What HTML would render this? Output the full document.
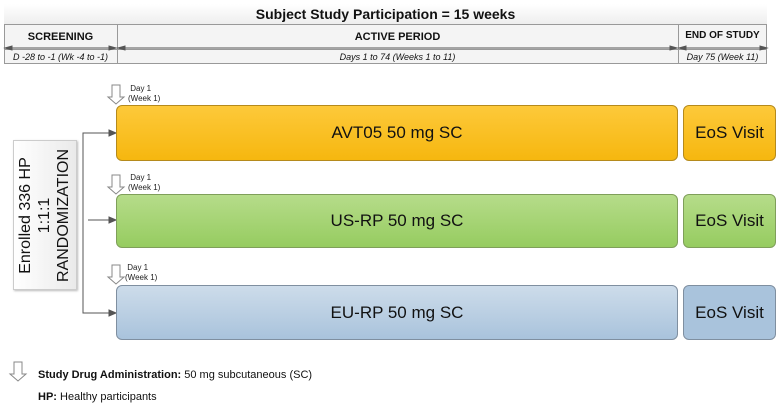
<!DOCTYPE html>
<html><head><meta charset="utf-8"><style>
body{margin:0;width:780px;height:413px;background:#fff;position:relative;overflow:hidden;font-family:"Liberation Sans",sans-serif;color:#111}
.a{position:absolute;box-sizing:border-box}
.c{display:flex;align-items:center;justify-content:center}
.b{border-radius:6px;font-size:17px}
.y{background:linear-gradient(#fdc93a,#f6b70f);border:1px solid #b58a1c}
.g{background:linear-gradient(#b6dc8a,#96cc60);border:1px solid #7f9f5a}
.bl{background:linear-gradient(#cddcea,#a9c3dc);border:1px solid #7f8fa0}
.bl2{background:#a9c3dc;border:1px solid #7f8fa0}
.d{font-size:8px;line-height:10px;color:#222}
</style></head><body>
<div class="a" style="left:4px;top:4px;width:763px;height:60px;border:1px solid #999;background:#f4f4f4"></div>
<div class="a c" style="left:4px;top:4px;width:763px;height:21px;border-bottom:1px solid #999;font-weight:bold;font-size:14px;background:linear-gradient(#fff,#eee)">Subject Study Participation = 15 weeks</div>
<div class="a" style="left:117px;top:24px;width:1px;height:40px;background:#999"></div>
<div class="a" style="left:678px;top:24px;width:1px;height:40px;background:#999"></div>
<div class="a" style="left:4px;top:49px;width:763px;height:1px;background:#999"></div>
<div class="a c" style="left:4px;top:27px;width:113px;height:20px;font-weight:bold;font-size:11px">SCREENING</div>
<div class="a c" style="left:117px;top:27px;width:561px;height:20px;font-weight:bold;font-size:11px">ACTIVE PERIOD</div>
<div class="a c" style="left:678px;top:25px;width:89px;height:20px;font-weight:bold;font-size:10px">END OF STUDY</div>
<div class="a c" style="left:4px;top:50px;width:113px;height:14px;font-style:italic;font-size:9px">D -28 to -1 (Wk -4 to -1)</div>
<div class="a c" style="left:117px;top:50px;width:561px;height:14px;font-style:italic;font-size:9px">Days 1 to 74 (Weeks 1 to 11)</div>
<div class="a c" style="left:678px;top:50px;width:89px;height:14px;font-style:italic;font-size:9px">Day 75 (Week 11)</div>
<svg class="a" style="left:0;top:0" width="780" height="413">
<g stroke="#555" fill="#555" stroke-width="1">
<line x1="6" y1="48" x2="115" y2="48"/><polygon points="5,48 12,46 12,50"/><polygon points="116,48 109,46 109,50"/>
<line x1="119" y1="48" x2="676" y2="48"/><polygon points="118,48 125,46 125,50"/><polygon points="677,48 670,46 670,50"/>
<line x1="680" y1="48" x2="766" y2="48"/><polygon points="679,48 686,46 686,50"/><polygon points="767,48 760,46 760,50"/>
<polyline points="114,133 83,133 83,313 114,313" fill="none"/>
<line x1="88" y1="220" x2="112" y2="220"/>
<polygon points="116,133 109,130 109,136"/><polygon points="116,220 109,217 109,223"/><polygon points="116,313 109,310 109,316"/>
</g>
<g fill="#fff" stroke="#888">
<polygon points="112,85 120,85 120,97 124,97 116,104 108,97 112,97"/>
<polygon points="112,175 120,175 120,187 124,187 116,194 108,187 112,187"/>
<polygon points="112,265 120,265 120,277 124,277 116,284 108,277 112,277"/>
<polygon points="14,362 22,362 22,374 26,374 18,381 10,374 14,374"/>
</g>
</svg>
<div class="a d" style="left:128px;top:84px">&nbsp;Day 1<br>(Week 1)</div>
<div class="a d" style="left:128px;top:173px">&nbsp;Day 1<br>(Week 1)</div>
<div class="a d" style="left:125px;top:263px">&nbsp;Day 1<br>(Week 1)</div>
<div class="a c" style="left:13px;top:140px;width:64px;height:150px;background:linear-gradient(90deg,#fff,#eaeaea);border:1px solid #ccc;box-shadow:1px 1px 2px #bbb">
<div style="transform:rotate(-90deg);white-space:nowrap;text-align:center;font-size:16px;line-height:19px">Enrolled 336 HP<br>1:1:1<br>RANDOMIZATION</div></div>
<div class="a c b y" style="left:116px;top:105px;width:562px;height:56px">AVT05 50 mg SC</div>
<div class="a c b y" style="left:683px;top:105px;width:93px;height:56px">EoS Visit</div>
<div class="a c b g" style="left:116px;top:194px;width:562px;height:54px">US-RP 50 mg SC</div>
<div class="a c b g" style="left:683px;top:194px;width:93px;height:54px">EoS Visit</div>
<div class="a c b bl" style="left:116px;top:285px;width:562px;height:55px">EU-RP 50 mg SC</div>
<div class="a c b bl2" style="left:683px;top:285px;width:93px;height:55px">EoS Visit</div>
<div class="a" style="left:38px;top:369px;font-size:11px"><b>Study Drug Administration:</b> 50 mg subcutaneous (SC)</div>
<div class="a" style="left:38px;top:391px;font-size:11px"><b>HP:</b> Healthy participants</div>
</body></html>
